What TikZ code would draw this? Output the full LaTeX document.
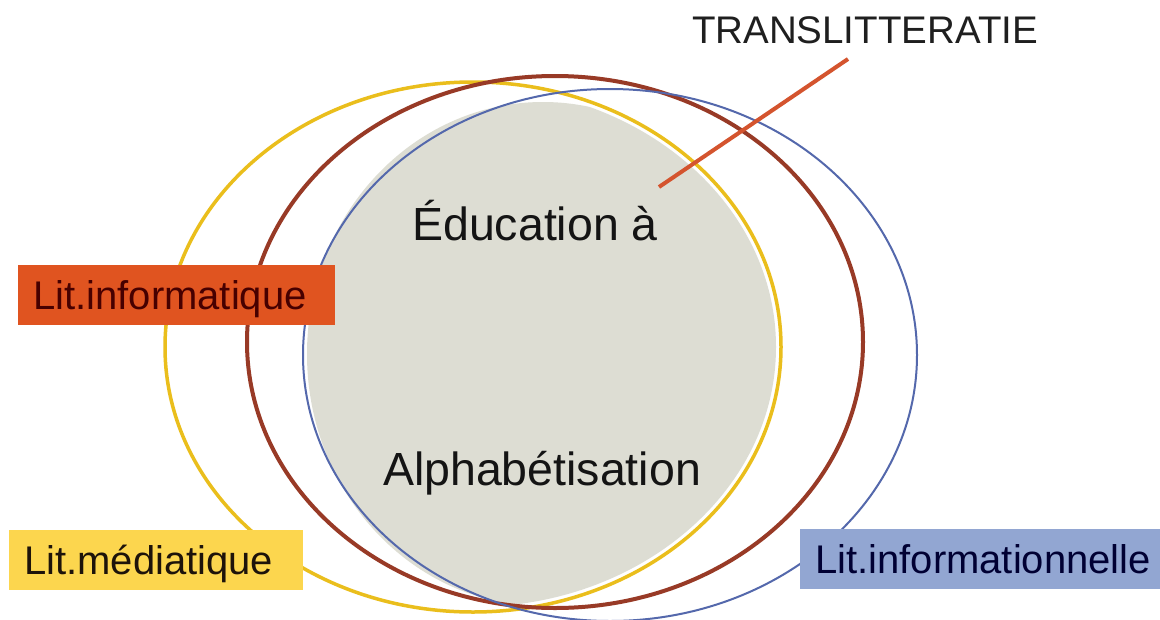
\documentclass[tikz,border=0pt]{standalone}
\usepackage{fontspec}
\setmainfont{Liberation Sans}
\definecolor{grayfill}{RGB}{221,221,211}
\definecolor{ylw}{RGB}{234,190,28}
\definecolor{brn}{RGB}{152,58,38}
\definecolor{blu}{RGB}{84,104,172}
\definecolor{orangebox}{RGB}{224,84,32}
\definecolor{yellowbox}{RGB}{252,214,78}
\definecolor{bluebox}{RGB}{146,166,210}
\definecolor{lineorange}{RGB}{212,84,46}
\tikzset{
  bigtext/.style={anchor=base, text=black!92, font=\fontsize{46.5}{50}\selectfont},
  labelbox/.style={anchor=north west, inner ysep=0pt, inner xsep=15pt, align=left,
    minimum height=60pt, text height=34pt, text depth=5pt,
    font=\fontsize{40}{44}\selectfont},
  ring/.style={line width=#1}
}
\begin{document}
\begin{tikzpicture}[x=1pt,y=-1pt]
\useasboundingbox[fill=white] (0,0) rectangle (1160,619);
% gray fill, kept inside the yellow ring
\begin{scope}
  \clip (473,347) ellipse [x radius=303pt, y radius=260pt];
  \fill[grayfill] (543,354) ellipse [x radius=236pt, y radius=252pt];
\end{scope}
% rings
\draw[ylw, ring=3.5pt] (473,347) ellipse [x radius=308pt, y radius=265pt];
\draw[brn, ring=4pt] (555,342) ellipse [x radius=308pt, y radius=266pt];
\draw[blu, ring=2pt] (610,355) ellipse [x radius=307pt, y radius=266pt];
% center text
\node[bigtext] (educ) at (535,240) {Éducation à};
\node[bigtext] (alpha) at (542,485) {Alphabétisation};
% TRANSLITTERATIE
\node[anchor=base, text=black!88, font=\fontsize{38.5}{42}\selectfont] (trans) at (865,43) {TRANSLITTERATIE};
\coordinate (tstart) at (848,59);
\coordinate (tend) at (659,187);
\draw[lineorange, line width=4pt] (tstart) -- (tend);
% label boxes
\node[labelbox, fill=orangebox, text=black!60!red!70!black, minimum width=317pt, text width=287pt] (info) at (18,265) {Lit.informatique};
\node[labelbox, fill=yellowbox, text=black!85!brown, minimum width=294pt, text width=264pt] (media) at (9,530) {Lit.médiatique};
\node[labelbox, fill=bluebox, text=black!80!blue, minimum width=360pt, text width=330pt] (infon) at (800,529) {Lit.informationnelle};
\end{tikzpicture}
\end{document}
